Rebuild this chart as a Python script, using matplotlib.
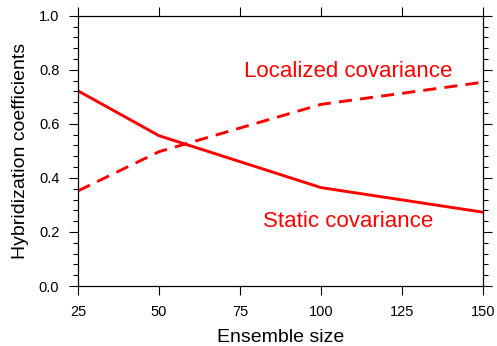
import matplotlib
matplotlib.use('Agg')
import matplotlib.pyplot as plt
from matplotlib.ticker import MultipleLocator

plt.rcParams['font.family'] = ['Liberation Sans', 'DejaVu Sans']

# ensemble sizes and hybridization coefficients
ens_size = [25, 50, 100, 150]
static_cov = [0.722, 0.556, 0.364, 0.273]
local_cov = [0.352, 0.497, 0.672, 0.754]

fig = plt.figure(figsize=(4.97, 3.46), dpi=100)
ax = fig.add_axes([0.157, 0.1734, 0.815, 0.7812])

ax.plot(ens_size, static_cov, color='red', lw=2.1, solid_capstyle='butt')
ax.plot(ens_size, local_cov, color='red', lw=2.1, dashes=(4.5, 2.8))

ax.text(108.3, 0.795, 'Localized covariance', color='red', fontsize=16, ha='center', va='center')
ax.text(108.3, 0.238, 'Static covariance', color='red', fontsize=16, ha='center', va='center')

ax.set_xlim(25, 150)
ax.set_ylim(0, 1)
ax.xaxis.set_major_locator(MultipleLocator(25))
ax.yaxis.set_major_locator(MultipleLocator(0.2))
ax.yaxis.set_minor_locator(MultipleLocator(0.04))
ax.yaxis.set_major_formatter(plt.FormatStrFormatter('%.1f'))

ax.tick_params(which='both', direction='out', top=True, right=True, labelsize=10.5, width=0.8)
ax.tick_params(which='major', length=6.5, pad=7)
ax.tick_params(which='minor', length=3.5)
for s in ax.spines.values():
    s.set_linewidth(0.9)

ax.set_xlabel('Ensemble size', fontsize=14, labelpad=7.5)
ax.set_ylabel('Hybridization coefficients', fontsize=14, labelpad=7)

fig.savefig('out.png', dpi=100)
